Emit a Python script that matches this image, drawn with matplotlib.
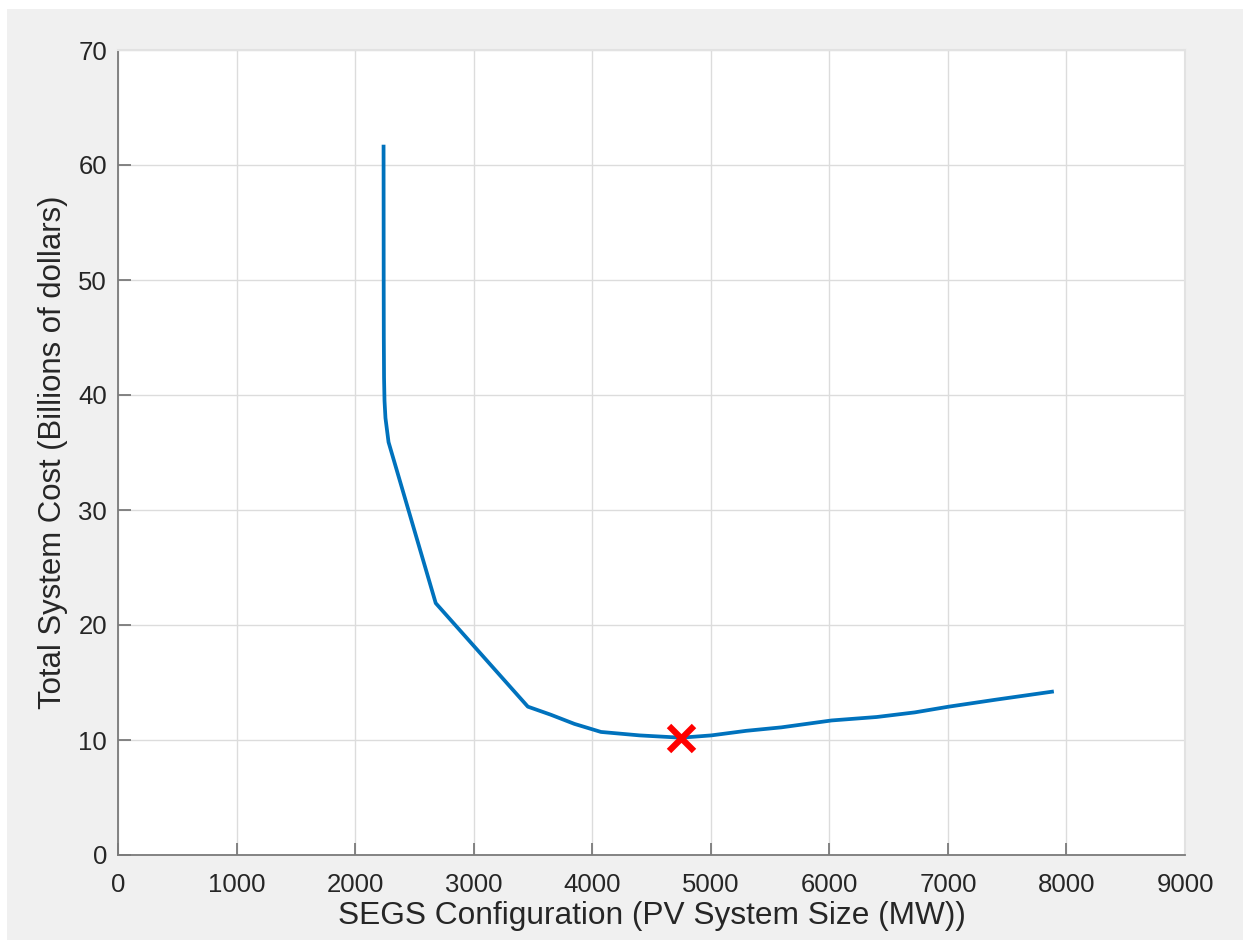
import matplotlib.pyplot as plt

# data
pv_size = [2240, 2241, 2242, 2244, 2248, 2256, 2282, 2680, 3457, 3650, 3850, 4074,
           4400, 4750, 5004, 5300, 5596, 6019, 6400, 6720, 7008, 7400, 7878]
total_cost = [61.6, 50.0, 45.0, 41.5, 39.5, 38.0, 35.9, 21.9, 12.9, 12.2, 11.4, 10.7,
              10.4, 10.2, 10.4, 10.8, 11.1, 11.7, 12.0, 12.4, 12.9, 13.5, 14.2]
best_x = [4750]
best_y = [10.2]

x_ticks = list(range(0, 9001, 1000))
y_ticks = list(range(0, 71, 10))

plt.rcParams['font.family'] = ['Liberation Sans', 'DejaVu Sans']

fig = plt.figure(figsize=(12.5, 9.49), dpi=100, facecolor='white')
# gray figure panel inside thin white border
fig.patches.append(plt.Rectangle((7 / 1250, 9 / 949), 1 - 14 / 1250, 1 - 18 / 949,
                                 transform=fig.transFigure, facecolor='#f0f0f0',
                                 edgecolor='none', zorder=-10))
ax = fig.add_axes([118 / 1250, 1 - 855 / 949, (1185 - 118) / 1250, (855 - 50) / 949])
ax.set_facecolor('white')

ax.plot(pv_size, total_cost, color='#0072BD', linewidth=2.7, zorder=3)
ax.plot(best_x, best_y, 'x', color='red', markersize=18, markeredgewidth=4.5, zorder=4)

ax.set_xlim(0, 9000)
ax.set_ylim(0, 70)
ax.set_xticks(x_ticks)
ax.set_yticks(y_ticks)
ax.grid(True, color='#dcdcdc', linewidth=1)
ax.set_axisbelow(True)

for side in ['top', 'right']:
    ax.spines[side].set_color('#e2e2e2')
    ax.spines[side].set_linewidth(1.5)
for side in ['left', 'bottom']:
    ax.spines[side].set_color('#7a7a7a')
    ax.spines[side].set_linewidth(1.3)

ax.tick_params(direction='in', length=9, width=1.3, color='#7a7a7a',
               labelsize=18.5, labelcolor='#262626')
ax.tick_params(axis='x', pad=13)
ax.tick_params(axis='y', pad=8)

ax.set_xlabel('SEGS Configuration (PV System Size (MW))', fontsize=22.8, color='#262626', labelpad=3)
ax.set_ylabel('Total System Cost (Billions of dollars)', fontsize=22.4, color='#262626', labelpad=7)

fig.savefig('out.png', dpi=100, facecolor=fig.get_facecolor())
